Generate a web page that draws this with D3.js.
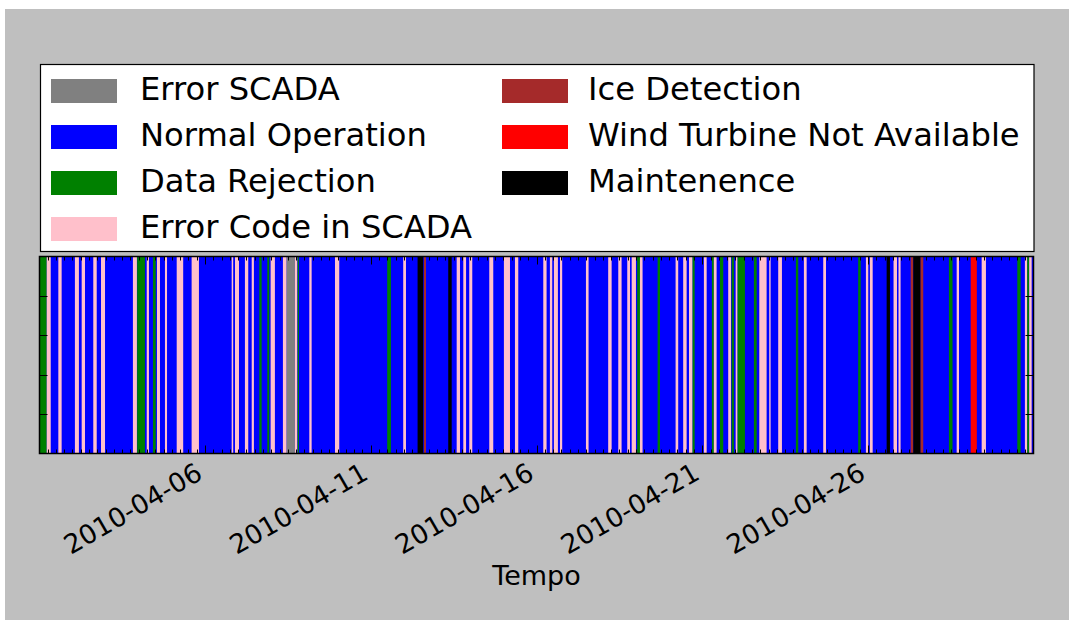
<!DOCTYPE html>
<html>
<head>
<meta charset="utf-8">
<script src="https://cdn.jsdelivr.net/npm/d3@7"></script>
<style>
html,body{margin:0;padding:0;background:#fff;}
svg{display:block;}
</style>
</head>
<body>
<svg id="chart" width="1074" height="625"></svg>
<script>
// ---- data ----
const statusNames = ["Error SCADA","Normal Operation","Data Rejection","Error Code in SCADA","Ice Detection","Wind Turbine Not Available","Maintenence"];
const statusColors = ["#808080","#0000ff","#008000","#ffc0cb","#a52a2a","#ff0000","#000000"];
const legendColumn1 = ["Error SCADA","Normal Operation","Data Rejection","Error Code in SCADA"];
const legendColumn2 = ["Ice Detection","Wind Turbine Not Available","Maintenence"];

const timeStart = "2010-04-01 00:10";
const timeEnd = "2010-04-30 23:50";
const baseStatus = "Normal Operation";
const tickLabels = ["2010-04-06","2010-04-11","2010-04-16","2010-04-21","2010-04-26"];
const xLabel = "Tempo";

// non-normal periods, hours since 2010-04-01 00:00
const eventStart = [0.17,5.4,13.8,25.8,30.7,39.1,44.7,67.8,70.9,77.8,82.3,85.2,91.0,99.5,110.3,139.3,141.7,148.9,153.8,159.3,165.1,167.5,176.4,179.1,185.1,187.1,195.5,214.1,251.9,263.5,273.9,278.5,296.1,302.2,307.0,311.3,325.8,336.4,344.4,364.9,369.7,372.6,377.0,395.8,411.9,419.2,425.7,428.9,432.9,434.9,447.7,460.7,466.2,470.4,473.0,481.2,487.0,488.4,492.8,498.8,501.3,504.2,505.6,517.4,521.3,528.5,535.0,547.8,553.6,567.6,592.9,598.5,601.4,613.5,618.5,622.1,630.9,632.8,638.1,658.6,664.2,674.4,682.3,708.1,713.6,715.3,716.7];
const eventEnd = [5.4,8.3,16.2,28.7,33.1,41.6,47.6,70.7,76.5,79.4,84.3,87.4,92.5,104.2,115.6,140.4,144.6,151.3,155.4,161.0,166.5,170.6,179.1,185.1,186.8,188.0,197.2,217.2,254.6,265.5,278.0,280.0,298.6,304.6,309.0,313.5,328.7,340.8,346.8,367.3,371.4,375.5,378.6,397.7,414.4,421.6,427.7,432.0,434.9,436.8,449.4,462.6,468.7,473.0,474.5,483.2,488.4,490.4,495.2,500.8,502.9,505.6,510.9,519.4,526.6,529.5,537.7,549.5,555.6,569.6,594.7,600.2,603.4,615.9,621.0,623.6,632.8,638.1,640.0,661.2,665.9,678.8,685.4,710.5,715.3,716.7,718.5];
const eventStatus = ["Data Rejection","Error Code in SCADA","Error Code in SCADA","Error Code in SCADA","Error Code in SCADA","Error Code in SCADA","Error Code in SCADA","Error Code in SCADA","Data Rejection","Error Code in SCADA","Data Rejection","Error Code in SCADA","Error Code in SCADA","Error Code in SCADA","Error Code in SCADA","Error Code in SCADA","Error Code in SCADA","Error Code in SCADA","Error Code in SCADA","Data Rejection","Data Rejection","Error Code in SCADA","Error Code in SCADA","Error SCADA","Error Code in SCADA","Data Rejection","Error Code in SCADA","Error Code in SCADA","Data Rejection","Error Code in SCADA","Maintenence","Ice Detection","Maintenence","Error Code in SCADA","Error Code in SCADA","Error Code in SCADA","Error Code in SCADA","Error Code in SCADA","Error Code in SCADA","Error Code in SCADA","Error Code in SCADA","Error Code in SCADA","Error Code in SCADA","Error Code in SCADA","Error Code in SCADA","Error Code in SCADA","Error Code in SCADA","Error Code in SCADA","Data Rejection","Error Code in SCADA","Data Rejection","Error Code in SCADA","Error Code in SCADA","Error Code in SCADA","Data Rejection","Error Code in SCADA","Data Rejection","Error Code in SCADA","Data Rejection","Error Code in SCADA","Data Rejection","Error Code in SCADA","Data Rejection","Data Rejection","Error Code in SCADA","Error Code in SCADA","Error Code in SCADA","Data Rejection","Error Code in SCADA","Error Code in SCADA","Data Rejection","Error Code in SCADA","Error Code in SCADA","Maintenence","Error Code in SCADA","Error Code in SCADA","Ice Detection","Maintenence","Ice Detection","Data Rejection","Error Code in SCADA","Wind Turbine Not Available","Error Code in SCADA","Data Rejection","Error Code in SCADA","Data Rejection","Error Code in SCADA"];

// ---- drawing ----
const FONT = "'DejaVu Sans', sans-serif";
const svg = d3.select("#chart");
const W = 1074, H = 625;
const plot = {left: 39.5, right: 1033.5, top: 256.5, bottom: 453.5};

svg.append("rect").attr("x",0).attr("y",0).attr("width",W).attr("height",H).attr("fill","#ffffff");
svg.append("rect").attr("x",5).attr("y",9).attr("width",1064).attr("height",611).attr("fill","#bfbfbf");

const parse = d3.utcParse("%Y-%m-%d %H:%M");
const parseDay = d3.utcParse("%Y-%m-%d");
const t0 = parse(timeStart), t1 = parse(timeEnd);
const base = parseDay("2010-04-01");
const hourToDate = h => new Date(base.getTime() + h * 3600e3);

const x = d3.scaleUtc().domain([t0, t1]).range([plot.left, plot.right]);
const y = d3.scaleLinear().domain([0, 1]).range([plot.bottom, plot.top]);
const color = d3.scaleOrdinal().domain(statusNames).range(statusColors);

const events = eventStart.map((s, i) => ({start: hourToDate(s), end: hourToDate(eventEnd[i]), status: eventStatus[i]}));

const g = svg.append("g");
g.append("clipPath").attr("id","clip").append("rect")
  .attr("x",plot.left).attr("y",plot.top).attr("width",plot.right-plot.left).attr("height",plot.bottom-plot.top);
const bars = g.append("g").attr("clip-path","url(#clip)");

// base normal operation
bars.append("rect")
  .attr("x", x(t0)).attr("width", x(t1) - x(t0))
  .attr("y", y(1)).attr("height", y(0) - y(1))
  .attr("fill", color(baseStatus));

bars.selectAll("rect.ev").data(events).join("rect")
  .attr("class","ev")
  .attr("x", d => x(d.start))
  .attr("width", d => Math.max(0.5, x(d.end) - x(d.start)))
  .attr("y", y(1)).attr("height", y(0) - y(1))
  .attr("fill", d => color(d.status));

// ticks
const tickDates = tickLabels.map(parseDay);
const minorTicks = d3.utcHour.every(6).range(t0, t1).filter(d => !tickDates.some(t => +t === +d));
const tg = g.append("g").attr("stroke","#000").attr("stroke-width",1);
minorTicks.forEach(d => {
  const xx = Math.round(x(d)) + 0.5;
  tg.append("line").attr("x1",xx).attr("x2",xx).attr("y1",plot.bottom).attr("y2",plot.bottom-4);
  tg.append("line").attr("x1",xx).attr("x2",xx).attr("y1",plot.top).attr("y2",plot.top+4);
});
tickDates.forEach(d => {
  const xx = Math.round(x(d)) + 0.5;
  tg.append("line").attr("x1",xx).attr("x2",xx).attr("y1",plot.bottom).attr("y2",plot.bottom-8);
  tg.append("line").attr("x1",xx).attr("x2",xx).attr("y1",plot.top).attr("y2",plot.top+8);
});
[0.2,0.4,0.6,0.8].forEach(v => {
  const yy = Math.round(y(v)) + 0.5;
  tg.append("line").attr("x1",plot.left).attr("x2",plot.left+8).attr("y1",yy).attr("y2",yy);
  tg.append("line").attr("x1",plot.right).attr("x2",plot.right-8).attr("y1",yy).attr("y2",yy);
});

// frame
g.append("rect")
  .attr("x",plot.left).attr("y",plot.top)
  .attr("width",plot.right-plot.left).attr("height",plot.bottom-plot.top)
  .attr("fill","none").attr("stroke","#000").attr("stroke-width",1.5);

// tick labels
tickDates.forEach((d, i) => {
  const ax = x(d) - 1, ay = 478;
  g.append("text")
    .attr("transform", `translate(${ax},${ay}) rotate(-30)`)
    .attr("text-anchor","end")
    .attr("font-family",FONT).attr("font-size",26.5).attr("fill","#000")
    .text(tickLabels[i]);
});

// x label
g.append("text")
  .attr("x",(plot.left+plot.right)/2).attr("y",585)
  .attr("text-anchor","middle")
  .attr("font-family",FONT).attr("font-size",27).attr("fill","#000")
  .text(xLabel);

// legend
const lg = svg.append("g");
lg.append("rect").attr("x",40.5).attr("y",64.5).attr("width",993.5).attr("height",187)
  .attr("fill","#fff").attr("stroke","#000").attr("stroke-width",1.2);
const cols = [{names: legendColumn1, px: 51, tx: 140}, {names: legendColumn2, px: 502, tx: 588}];
cols.forEach(c => {
  c.names.forEach((n, i) => {
    lg.append("rect").attr("x",c.px).attr("y",79 + 46*i).attr("width",66).attr("height",24)
      .attr("fill",color(n));
    lg.append("text").attr("x",c.tx).attr("y",99.5 + 46*i)
      .attr("font-family",FONT).attr("font-size",32.2).attr("fill","#000")
      .text(n);
  });
});
</script>
</body>
</html>
